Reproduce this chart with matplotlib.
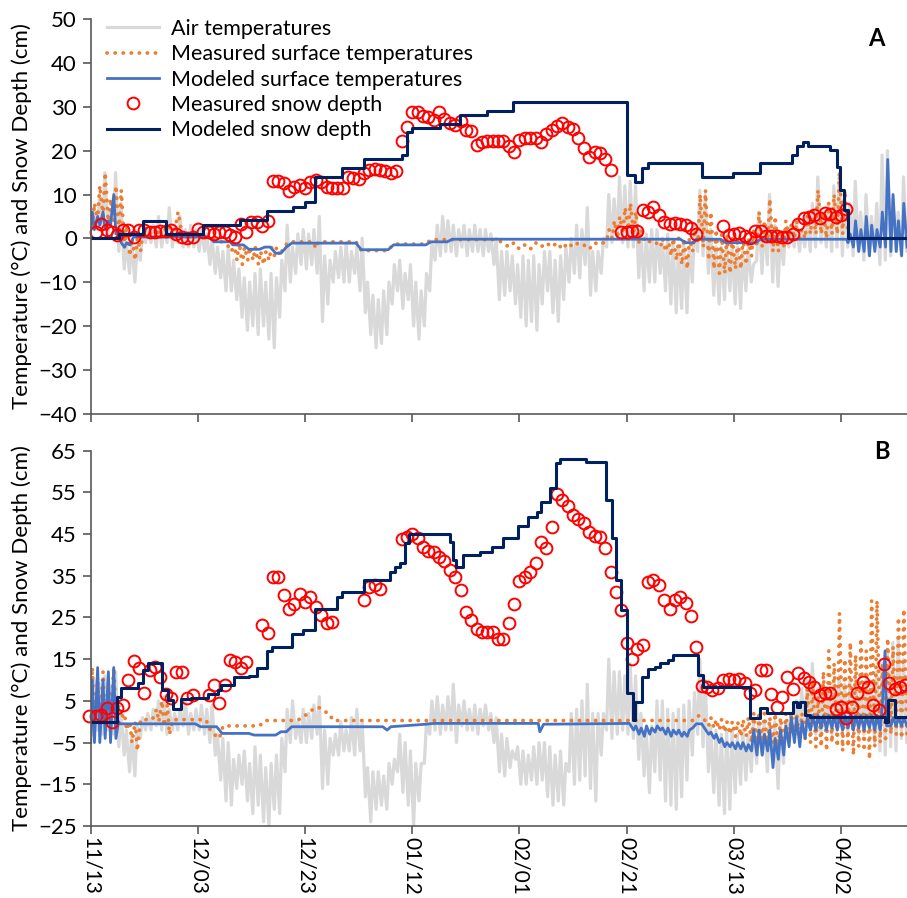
import numpy as np
import matplotlib.pyplot as plt

plt.rcParams['font.family'] = ['Lato', 'DejaVu Sans']

# x axis = days since 11/13
tick_days = [0, 20, 40, 60, 80, 100, 120, 140]
tick_labels = ['11/13', '12/03', '12/23', '01/12', '02/01', '02/21', '03/13', '04/02']

# ---------------- panel A ----------------
# air temperature, daily max / min (deg C), day 0 = 11/13
a_air_hi = [7, 10, 15, 6, 15, 8, -1, -1, -2, 1,
            2, 3, 5, 2, 7, 3, 5, 2, 3, 2,
            2, 1, 0, -2, -3, -2, -5, -7, -9, -10,
            -8, -7, -10, -8, -9, -5, 3, -2, 1, 2,
            1, 2, 5, -4, -5, -3, -2, -1, -3, -2,
            0, -10, -13, -14, -12, -10, -6, -5, -8, -6,
            -10, -12, -8, -1, 3, 5, 4, 3, 2, 3,
            2, 3, 2, 2, 1, 0, -3, -3, -4, -6,
            -4, -5, -4, -6, -3, -3, -5, -4, -2, 0,
            3, 2, 7, -3, -3, 0, 10, 9, 14, 12,
            13, 12, 2, 1, 2, 2, 0, 1, -1, -2,
            -1, -2, 3, 11, 10, 2, -2, -2, -1, -2,
            -2, -3, -2, -6, 6, 3, 10, 3, 0, 2,
            3, 4, 2, 5, 8, 14, 6, 8, 12, 15,
            10, 8, 13, 6, 10, 5, 8, 19, 20, 9,
            6, 14, 8]
a_air_lo = [2, 2, 3, 1, 4, -3, -7, -8, -10, -5,
            -1, -1, -2, -2, -1, -2, -1, -2, -2, -2,
            -3, -3, -6, -8, -9, -12, -12, -14, -18, -21,
            -20, -22, -20, -23, -25, -18, -12, -10, -8, -6,
            -7, -6, -8, -19, -15, -10, -9, -10, -10, -8,
            -12, -17, -22, -25, -24, -22, -15, -12, -16, -14,
            -20, -23, -20, -12, -5, -4, -3, -3, -4, -2,
            -4, -3, -3, -4, -3, -6, -14, -13, -12, -15,
            -18, -20, -19, -21, -15, -12, -17, -19, -14, -10,
            -8, -9, -6, -13, -12, -8, -2, -1, 0, -1,
            -2, -2, -9, -12, -10, -10, -8, -12, -15, -17,
            -16, -17, -10, -3, -4, -8, -13, -15, -14, -12,
            -15, -16, -12, -10, -5, -8, -6, -10, -11, -6,
            -2, -2, -3, -2, -3, -2, -1, -2, -3, -2,
            -4, -2, -4, -3, -5, -4, -2, -6, -5, -4,
            -3, -4, -3]

# measured surface temperature (day, deg C)
a_meas_sfc = [(0.3, 3), (0.7, 8), (1.3, 4), (1.7, 12), (2.3, 5), (2.7, 15), (3.3, 3), (3.7, 9),
              (4.3, 4), (4.7, 12), (5.3, 1), (5.7, 11), (6.3, -2), (6.7, 3), (7.3, -4), (7.7, 0),
              (8.3, -5), (8.7, 0), (9.3, -3), (9.7, 1), (10.5, 1), (13.5, 1.5), (14.5, 3),
              (15.5, 0.5), (16.3, 6), (17, 1), (20, 0.8), (22, 0), (24, -0.5), (25.5, -1.5),
              (26.3, -3), (26.7, -1), (27.3, -5), (27.7, -1), (28.3, -6), (28.7, -2), (29.3, -5),
              (29.7, -2), (30.3, -5), (30.7, -2), (31.3, -6), (31.7, -3), (32.3, -6), (32.7, -3),
              (33.3, -5), (33.7, -2), (34.3, -4), (34.7, -2), (35.3, -4), (36, -2), (37, -0.8),
              (41.5, -0.8), (42, -2.3), (42.5, -0.8), (49.5, -0.8), (50.5, -2.8), (55.5, -2.8),
              (56.5, -1.3), (62.5, -1.3), (63.5, -0.3), (75.5, -0.3), (77, -1), (78, -2), (79, -1),
              (80, -2.5), (81, -1.5), (82, -2.5), (83, -1), (84, -2), (85, -1), (86, -2), (87, -1),
              (88, -2.5), (89, -1), (90, -2), (91, -1), (92, -1.5), (93, -2.5), (94, -1), (95, -1.5),
              (96.3, -0.5), (96.7, 2), (97.3, 0), (97.7, 4), (98.3, 0), (98.7, 5), (99.3, 1),
              (99.7, 7), (100.3, 2), (100.7, 8), (101.3, 1), (101.7, 6), (102.3, -1), (102.7, 2),
              (103.5, -1), (105, -0.5), (106.3, -2), (106.7, 0), (107.3, -3), (107.7, 0),
              (108.3, -4), (108.7, 0), (109.3, -5), (109.7, 0), (110.3, -6), (110.7, 0),
              (111.3, -7), (111.7, 0), (112.3, -3), (112.7, 2), (113.3, -1), (113.7, 10),
              (114.3, -2), (114.7, 11), (115.3, -5), (115.7, 6), (116.3, -7), (116.7, 2),
              (117.3, -8), (117.7, 1), (118.3, -8), (118.7, 1), (119.3, -8), (119.7, 0),
              (120.3, -7), (120.7, 0), (121.3, -7), (121.7, 0), (122.3, -6), (122.7, 0),
              (123.3, -4), (123.7, 2), (124.3, -2), (124.7, 6), (125.3, -2), (125.7, 4),
              (126.3, -1), (126.7, 9), (127.3, -3), (127.7, 5), (128.3, -3), (128.7, 2),
              (129.3, -2), (129.7, 4), (130.3, 0), (130.7, 3), (131.3, 0), (131.7, 4), (132.3, 0),
              (132.7, 2), (133.3, 0), (133.7, 5), (134.3, 1), (134.7, 7), (135.3, 1), (135.7, 11),
              (136.3, 1), (136.7, 6), (137.3, 0), (137.7, 8), (138.3, 1), (138.7, 10), (139.3, 1),
              (139.7, 15), (140.3, 1), (140.7, 11), (141.3, 1)]

# modeled surface temperature (day, deg C)
a_mod_sfc = [(0, 3), (0.3, 6), (0.7, 2), (1.3, 5), (1.7, 3), (2.3, 6), (2.7, 2), (3.3, 4),
             (3.7, 3), (4.3, 10), (4.7, 1), (5.3, 2), (5.7, -1), (6.3, -2), (6.7, -1), (7.3, -1.5),
             (8, 0.3), (22, 0.3), (23, -0.8), (26, -0.8), (26.5, -1.5), (28.5, -1.5), (29.5, -2.5),
             (31.5, -2.5), (32.5, -2), (33.5, -2), (34.5, -3.4), (35.5, -3.4), (36.5, -2),
             (37.5, -1.1), (49.5, -1.1), (50.5, -2.6), (55.5, -2.6), (56.5, -1.5), (62.5, -1.5),
             (63.5, -0.8), (66.5, -0.8), (67.5, -0.2), (110, -0.2), (111, -1), (112.5, -1),
             (113, -0.2), (117.5, -0.2), (118.5, -1), (124, -1), (125, -0.2), (141, -0.2),
             (141.3, -1), (141.7, 1), (142.3, -2), (142.7, 4), (143.3, -3), (143.7, 2),
             (144.3, -3), (144.7, 5), (145.3, -4), (145.7, 3), (146.3, -3), (146.7, 2),
             (147.3, -2), (147.7, 6), (148.3, -2), (148.7, 18), (149.3, -3), (149.7, 10),
             (150.3, -3), (150.7, 4), (151.3, -4), (151.7, 8), (152.3, -2)]

# measured snow depth (cm)
a_snow_day = [1, 2, 3, 4, 5, 6, 7, 8, 9, 10, 11, 12, 13, 14, 15, 16, 17, 18, 19, 20,
              21, 22, 23, 24, 25, 26, 27, 28, 29, 30, 31, 32, 33, 34, 35, 36, 37, 38, 39, 40,
              41, 42, 43, 44, 45, 46, 47, 48, 49, 50, 51, 52, 53, 54, 55, 56, 57, 58, 59, 60,
              61, 62, 63, 64, 65, 66, 67, 68, 69, 70, 71, 72, 73, 74, 75, 76, 77, 78, 79, 80,
              81, 82, 83, 84, 85, 86, 87, 88, 89, 90, 91, 92, 93, 94, 95, 96, 97,
              99, 100, 101, 102, 103, 104, 105, 106, 107, 108, 109, 110, 111, 112, 113,
              118, 119, 120, 121, 122, 123, 124, 125, 126, 127, 128, 129, 130, 131, 132, 133,
              134, 135, 136, 137, 138, 139, 140, 141]
a_snow_cm = [1.4, 3.3, 1.9, 1.4, 0.7, 1.9, 1.9, 0.2, 1.9, 1.9, 1.4, 1.4, 1.7, 1.7, 1.9, 1.1,
             0.2, 0, 0.2, 2.2, 1.4, 1.4, 0.9, 1.4, 1.4, 0.7, 0.2, 3.3, 1.4, 3.7, 3.7, 2.9, 4.0,
             13.1, 13.1, 12.7, 10.9, 11.8, 12.1, 11.4, 12.9, 13.3, 12.9, 11.8, 11.5, 11.5, 11.5,
             14.0, 13.7, 13.5, 15.0, 15.6, 15.9, 15.6, 15.3, 15.0, 15.3, 22.2, 25.3, 28.9, 28.9,
             27.9, 27.6, 27.1, 28.9, 27.3, 26.4, 25.8, 26.8, 24.8, 24.5, 21.3, 22.0, 22.2, 22.2,
             22.2, 22.2, 21.1, 19.7, 22.4, 22.8, 22.8, 23.0, 22.0, 23.8, 24.7, 25.6, 26.3, 25.3,
             25.0, 23.0, 20.7, 18.6, 19.7, 19.4, 18.0, 15.7,
             1.4, 1.4, 1.7, 1.7, 6.5, 6.1, 7.2, 5.3, 3.8, 3.3, 3.4, 3.3, 3.0, 2.3, 0.9,
             2.8, 0.8, 1.1, 1.3, 0.5, 0, 1.7, 1.7, 0.5, 0.5, 0.5, 0.4, 0.4, 1.1, 3.2, 4.6, 4.8,
             5.3, 4.6, 5.7, 5.5, 4.9, 5.3, 6.8]

# modeled snow depth, step starts (day, cm)
a_mod_snow = [(0, 0), (5.2, 1.1), (9.8, 4), (14, 1), (21, 3), (27.9, 4.2), (32.8, 6.2),
              (37.8, 7.2), (40, 8.2), (41.9, 14), (46.8, 16), (50.9, 18), (58, 19), (59, 24.3),
              (60, 25.2), (65.2, 26.2), (68.9, 28.1), (73.9, 29), (78.8, 31.1), (100, 14.4),
              (101.6, 12.9), (102.8, 16), (104, 17.1), (114, 14), (119.9, 15), (124.9, 17.1),
              (130.8, 19), (131.8, 21.1), (132.9, 22.1), (133.8, 21.1), (137.9, 20.1),
              (139.2, 16.3), (139.8, 11), (140.5, 6.5), (141.3, 0), (152.5, 0)]

# ---------------- panel B ----------------
b_air_hi = [10, 9, 11, 8, 12, 2, -2, -3, -1, 1,
            2, 3, 5, 6, 3, 2, 3, 5, 2, 3,
            4, 3, 4, -3, -4, -5, -9, -8, -7, -10,
            -6, -8, -11, -10, -8, -4, 3, 5, 0, 3,
            2, 4, 6, -2, -4, -3, 0, -2, 1, 3,
            0, -11, -12, -12, -13, -10, -9, -3, -5, -7,
            -10, -10, 0, 5, 6, 4, 6, 9, 4, 5,
            3, 4, 3, 4, 2, 1, -3, -4, -7, -6,
            -7, -8, -6, -5, -5, -6, -8, -7, -10, 2,
            3, 5, 9, 2, 2, 2, 15, 12, 12, 11,
            14, 11, 2, -2, -1, 5, 5, 3, 2, 3,
            4, 5, 7, 15, 10, -1, -2, -3, -2, -2,
            -3, -2, -3, 0, 0, 0, 0, 0, 0, 0,
            2, 5, 8, 10, 14, 8, 9, 8, 10, 11,
            9, 10, 11, 8, 10, 9, 12, 14, 17, 19,
            20, 15, 18]
b_air_lo = [-3, -2, -3, -2, -3, -6, -8, -12, -13, -4,
            -2, -2, -1, -2, -3, -2, -2, -1, -3, -2,
            -2, -3, -5, -8, -14, -19, -20, -16, -15, -19,
            -22, -20, -24, -25, -21, -22, -12, -5, -4, -5,
            -5, -4, -3, -16, -15, -8, -8, -7, -7, -8,
            -7, -18, -24, -21, -20, -21, -15, -12, -17, -20,
            -25, -19, -10, -3, -2, -3, -2, -2, -5, -1,
            -2, -2, -3, -1, -2, -5, -12, -13, -11, -9,
            -15, -15, -14, -15, -14, -18, -20, -19, -20, -12,
            -15, -14, -13, -16, -19, -8, -2, -4, -3, -2,
            -3, -4, -9, -13, -17, -12, -14, -19, -20, -21,
            -18, -14, -8, -3, -6, -12, -17, -20, -22, -21,
            -17, -15, -14, -12, -10, -8, -12, -9, -16, -10,
            -3, -2, -3, -2, -3, -3, -3, -2, -3, -2,
            -3, -3, -2, -3, -3, -2, -5, -7, -8, -6,
            -7, -4, -5]

b_meas_sfc = [(0, 0), (0.3, 13), (0.7, 0), (1.3, 10), (1.7, -1), (2.3, 12), (2.7, 0), (3.3, 9),
              (3.7, 0), (4.3, 13), (4.7, 1), (5.3, 4), (5.7, 1), (6.3, 2), (6.7, -2), (7.3, 0),
              (7.7, -5), (8.3, 0), (8.7, -7), (9.3, 0.5), (11.5, 0.5), (12.3, 3), (12.7, 0),
              (13.3, 5), (13.7, -1), (14.3, 4), (14.7, -3), (15.3, 0.5), (21.5, 0.5), (22.3, -2),
              (23, -3), (24, -4), (24.7, -1), (31.5, -1), (32.5, 0.3), (38.5, 0.3), (39.5, 1),
              (40.5, 2), (41.5, 3), (42.5, 3.5), (43.5, 2.5), (44.5, 2), (45.2, 0.3), (112.5, 0.3),
              (113.5, 1.5), (114.5, 0.5), (115.3, -1), (115.7, 1), (116.3, -1.5), (116.7, 0.5),
              (117.3, -2), (117.7, 0.5), (118.3, -2.5), (118.7, 0), (119.3, -3), (119.7, 0),
              (120.3, -3.5), (120.7, 0), (121.3, -3.5), (121.7, 0.5), (122.3, -3.5), (122.7, 1),
              (123.3, -5), (123.7, 2), (124.3, -6), (124.7, 1.5), (125.3, -5), (125.7, 2),
              (126.3, -6), (126.7, 1), (127.3, -5), (127.7, 2), (128.3, -6), (128.7, 1),
              (129.3, -5), (129.7, 2), (130.3, -5), (130.7, 2), (131.3, -4), (131.7, 2),
              (132.3, -4), (132.7, 2), (133.3, -4), (133.7, 8), (134.3, -5), (134.7, 10),
              (135.3, -6), (135.7, 6), (136.3, -6), (136.7, 12), (137.3, -7), (137.7, 17),
              (138.3, -5), (138.7, 14), (139.3, -6), (139.7, 26), (140.3, -7), (140.7, 15),
              (141.3, -6), (141.7, 19), (142.3, -8), (142.7, 16), (143.3, -6), (143.7, 20),
              (144.3, -7), (144.7, 17), (145.3, -9), (145.7, 29), (146.3, -6), (146.7, 29),
              (147.3, -5), (147.7, 14), (148.3, -4), (148.7, 20), (149.3, -3), (149.7, 18),
              (150.3, -3), (150.7, 25), (151.3, -4), (151.7, 27), (152.3, -4)]

b_mod_sfc = [(0, -5), (0.3, 10), (0.7, -5), (1.3, 13), (1.7, -5), (2.3, 10), (2.7, -4), (3.3, 12),
             (3.7, -5), (4.3, 13), (4.7, -4), (5.2, 0), (5.5, -0.5), (19.5, -0.5), (20.5, -1.2),
             (23.5, -1.2), (24.5, -2.8), (29.5, -2.8), (30.5, -3.2), (34.5, -3.2), (35.5, -2.4),
             (36.5, -2.4), (37.5, -1.2), (54.5, -1.2), (55.3, -2), (56, -1.2), (62.5, -0.6),
             (64, -0.4), (83.5, -0.4), (83.8, -2.4), (84.5, -0.6), (100.5, -0.4),
             (101.3, -2), (101.7, -1), (102.3, -3), (102.7, -1.5), (103.3, -3.5), (103.7, -1),
             (104.3, -3), (104.7, -1.5), (105.3, -2.5), (105.7, -1), (106.3, -2), (106.7, -1.5),
             (107.3, -3), (107.7, -1.5), (108.3, -3.5), (108.7, -2), (109.3, -3), (109.7, -2),
             (110.3, -3.5), (110.7, -2.5), (111.3, -3.5), (111.7, -2), (112.3, -1.5), (113, -0.5),
             (114, -0.5), (114.5, -1.5), (115.3, -3), (115.7, -2.5), (116.3, -4), (116.7, -3),
             (117.3, -5), (117.7, -4), (118.3, -6), (118.7, -5), (119.3, -6), (119.7, -5),
             (120.3, -6.5), (120.7, -5), (121.3, -6.5), (121.7, -5), (122.3, -7), (122.7, -5.5),
             (123.3, -7), (123.7, -2), (124.3, -8), (124.7, -2), (125.3, -8), (125.7, -3),
             (126.3, -7), (126.7, -2), (127.3, -11), (127.7, -4), (128.3, -9), (128.7, -2),
             (129.3, -8), (129.7, -1), (130.3, -6), (130.7, 1), (131.3, -5), (131.7, 1),
             (132.3, -6), (132.7, 0), (133.3, -4), (133.7, 1), (134.3, -2), (134.7, 1.5),
             (135.3, -2), (135.7, 1.5), (136.3, -1.5), (136.7, 1.5), (137.3, -2), (137.7, 1.5),
             (138.3, -1.5), (138.7, 1.5), (139.3, -2), (139.7, 1.5), (140.3, -2), (140.7, 1.5),
             (141.3, -1.5), (141.7, 1.5), (142.3, -2), (142.7, 1.5), (143.3, -1.5), (143.7, 1.5),
             (144.3, -2), (144.7, 1.5), (145.3, -1.5), (145.7, 1.5), (146.3, -2), (146.7, 1.5),
             (147.3, -2), (147.7, 4), (148.2, 17), (148.5, -1), (149.3, -1), (149.7, 1),
             (150.3, -1), (150.7, 1), (151.3, -1), (151.7, 1), (152.3, -1)]

b_snow_day = [-0.3, 1, 2, 3, 4, 5, 6, 7, 8, 9, 10, 11, 12, 13, 14, 15, 16, 17, 18, 19,
              22, 23, 24, 25, 26, 27, 28, 29, 32, 33, 34, 35, 36, 37, 38, 39, 40, 41, 42, 43,
              44, 45, 51, 52, 53, 54, 58, 59, 60, 61, 62, 63, 64, 65, 66, 67, 68, 69,
              70, 71, 72, 73, 74, 75, 76, 77, 78, 79, 80, 81, 82, 83, 84, 85, 86, 87, 88, 89,
              90, 91, 92, 93, 94, 95, 96, 97, 98, 99, 100, 101, 102, 103, 104, 105, 106, 107,
              108, 109, 110, 111, 112, 113, 114, 115, 116, 117, 118, 119, 120, 121, 122, 123,
              124, 125, 126, 127, 128, 129, 130, 131, 132, 133, 134, 135, 136, 137, 138, 139,
              140, 141, 142, 143, 144, 145, 146, 147, 148, 149, 150, 151, 152]
b_snow_cm = [1.4, 1.4, 1.6, 3.2, 0, 3.2, 4.0, 9.9, 14.6, 12.8, 7.0, 12.3, 13.1, 10.8, 6.7, 5.6,
             11.9, 11.9, 5.6, 6.4, 6.3, 8.8, 4.6, 8.8, 14.8, 14.3, 12.8, 14.3, 23.1, 21.4, 34.6,
             34.6, 30.4, 27.0, 28.3, 30.6, 28.8, 29.9, 27.6, 25.5, 23.6, 23.9, 29.2, 32.3, 32.7,
             31.8, 43.9, 44.4, 45.0, 44.0, 42.0, 41.0, 40.6, 39.6, 38.5, 36.5, 34.6, 31.6,
             26.4, 24.3, 22.2, 21.6, 21.6, 21.5, 19.9, 19.9, 23.6, 28.2, 33.8, 34.8, 35.8, 38.0,
             43.0, 41.6, 46.8, 54.5, 53.2, 51.8, 49.6, 48.6, 47.6, 45.6, 44.5, 44.2, 41.6, 35.8,
             31.1, 26.8, 19.0, 15.0, 17.5, 18.4, 33.6, 34.0, 32.8, 29.2, 27.0, 29.2, 29.8, 28.4,
             25.4, 17.9, 8.6, 8.3, 7.6, 8.2, 10.0, 10.2, 10.0, 10.2, 9.2, 6.8, 7.5, 12.3, 12.3,
             6.7, 3.6, 6.0, 10.8, 7.8, 11.8, 10.4, 9.6, 8.4, 6.4, 6.8, 6.8, 3.0, 3.6, 0.8, 3.6,
             7.0, 9.6, 8.4, 4.0, 2.7, 13.8, 9.2, 7.8, 8.4, 8.8]

b_mod_snow = [(0, 0), (4.85, 6), (5.7, 8), (8.8, 9.2), (9.8, 12.4), (10.7, 14), (13.3, 7.6),
              (14.4, 5.2), (15.4, 3), (16.9, 5.4), (18.8, 5.8), (21.9, 6.6), (23.7, 7.6),
              (24.3, 8.8), (26.7, 10.8), (29.5, 11), (31, 13), (32.8, 17), (33.8, 18),
              (37.6, 21), (39.7, 22), (41.8, 27), (45.9, 30), (46.8, 31), (50.9, 34), (55.8, 36),
              (56.8, 37.2), (57.7, 38), (58.6, 42.8), (59.3, 45), (67, 43.2), (67.6, 38.8),
              (68.2, 37.2), (69.5, 40), (72.6, 40.8), (74.8, 42), (77, 44), (79.7, 47),
              (81.6, 49), (83.2, 50.4), (84.1, 52.8), (85.7, 56), (86.8, 62), (87.5, 63),
              (92.4, 62.2), (96.2, 53.2), (97.3, 44), (98.1, 34), (99, 26.8), (100, 6.8),
              (101.1, 0.4), (101.5, 4.8), (102.8, 10.8), (104, 12.6), (105.2, 13.2), (106.2, 14),
              (107.7, 14.8), (108.7, 16), (113.3, 11.2), (114.3, 8.4), (123, 0.8), (124.9, 3.2),
              (126.1, 2), (131.1, 4.8), (131.7, 3.6), (132.4, 4.8), (133.3, 1.6), (134.2, 1.2),
              (148.2, 0), (148.8, 5.2), (150.1, 1.2), (152.5, 1.2)]


def draw_panel(ax, air_hi, air_lo, meas, mod, snow_day, snow_cm, mod_snow):
    d = np.arange(len(air_hi))
    t = np.column_stack([d + 0.25, d + 0.65]).ravel()
    v = np.column_stack([air_lo, air_hi]).ravel()
    ax.plot(t, v, color='#D9D9D9', lw=2.3, label='Air temperatures')
    mt, mv = zip(*meas)
    ax.plot(mt, mv, color='#ED7D31', lw=2.7, ls=(0, (0.05, 2.1)), dash_capstyle='round',
            label='Measured surface temperatures')
    st, sv = zip(*mod)
    ax.plot(st, sv, color='#4472C4', lw=2.0, label='Modeled surface temperatures')
    ax.plot(snow_day, snow_cm, 'o', mfc='none', mec='#FF0000', mew=1.4, ms=8.5,
            clip_on=False, label='Measured snow depth')
    nt, nv = zip(*mod_snow)
    ax.plot(nt, nv, drawstyle='steps-post', color='#002060', lw=2.2,
            label='Modeled snow depth')

    ax.set_xlim(0, 152.3)
    ax.set_xticks(tick_days)
    for s in ['top', 'right']:
        ax.spines[s].set_visible(False)
    for s in ['left', 'bottom']:
        ax.spines[s].set_color('#595959')
        ax.spines[s].set_linewidth(1.2)
    ax.tick_params(direction='out', length=6, width=1.2, color='#595959',
                   labelsize=16, pad=4)
    ax.tick_params(axis='x', labelsize=15, pad=2)


fig = plt.figure(figsize=(9.07, 8.98), dpi=100)
ax1 = fig.add_axes([0.1, 0.5395, 0.9, 0.439])
ax2 = fig.add_axes([0.1, 0.0802, 0.9, 0.4179])

draw_panel(ax1, a_air_hi, a_air_lo, a_meas_sfc, a_mod_sfc, a_snow_day, a_snow_cm, a_mod_snow)
ax1.set_ylim(-40, 50)
ax1.set_yticks(range(-40, 51, 10))
ax1.set_xticklabels([])

draw_panel(ax2, b_air_hi, b_air_lo, b_meas_sfc, b_mod_sfc, b_snow_day, b_snow_cm, b_mod_snow)
ax2.set_ylim(-25, 65)
ax2.set_yticks(range(-25, 66, 10))
ax2.set_xticklabels(tick_labels, rotation=-90, va='top', ha='center')

ax1.legend(loc='upper left', bbox_to_anchor=(0.118, 0.979), bbox_transform=fig.transFigure,
           frameon=False, fontsize=15.5, handlelength=2.4, handletextpad=0.55,
           labelspacing=0.25, borderpad=0, borderaxespad=0)

fig.text(0.9666, 0.957, 'A', fontsize=17, fontweight='bold', ha='center', va='center')
fig.text(0.972, 0.497, 'B', fontsize=17, fontweight='bold', ha='center', va='center')
fig.text(0.024, 0.7595, 'Temperature (\u00b0C) and Snow Depth (cm)', rotation=90,
         fontsize=16, ha='center', va='center')
fig.text(0.024, 0.2895, 'Temperature (\u00b0C) and Snow Depth (cm)', rotation=90,
         fontsize=16, ha='center', va='center')

fig.savefig('out.png', dpi=100)
